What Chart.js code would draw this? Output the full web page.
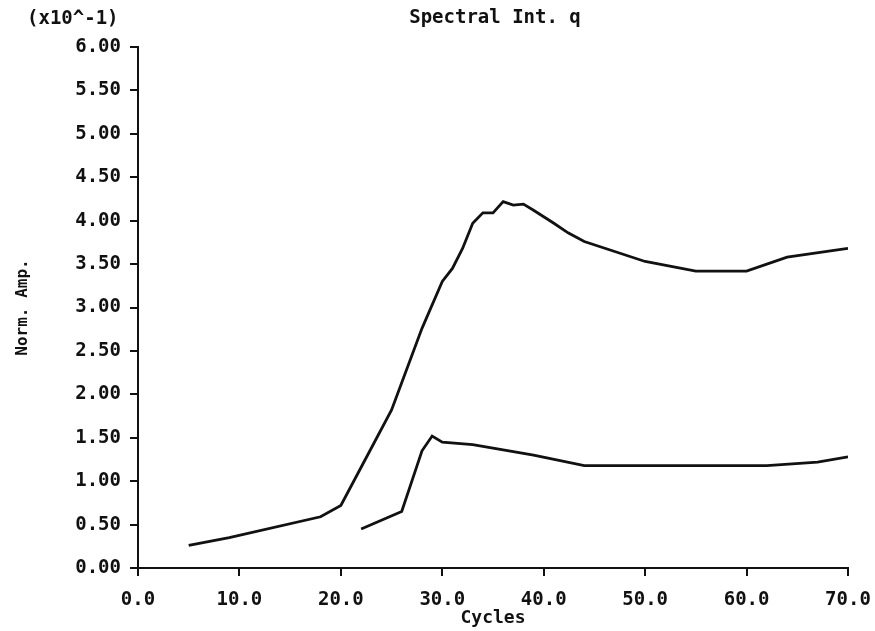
<!DOCTYPE html>
<html>
<head>
<meta charset="utf-8">
<script src="https://cdn.jsdelivr.net/npm/chart.js@4.4.1/dist/chart.umd.min.js"></script>
<style>
  html, body { margin: 0; padding: 0; background: #fff; }
  #wrap { width: 875px; height: 631px; }
</style>
</head>
<body>
<div id="wrap"><canvas id="chart"></canvas></div>
<script>
const upperCycles = [5, 9, 18, 20, 22, 25, 28, 30, 31, 32, 33, 34, 35, 36, 37, 38, 39, 41, 42.4, 44, 50, 55, 60, 64, 70];
const upperAmp = [0.26, 0.35, 0.59, 0.72, 1.16, 1.82, 2.76, 3.30, 3.45, 3.68, 3.97, 4.09, 4.09, 4.22, 4.18, 4.19, 4.12, 3.97, 3.86, 3.76, 3.53, 3.42, 3.42, 3.58, 3.68];

const lowerCycles = [22, 26, 28, 29, 30, 33, 36, 39, 44, 50, 60, 62, 67, 70];
const lowerAmp = [0.45, 0.65, 1.35, 1.52, 1.45, 1.42, 1.36, 1.30, 1.18, 1.18, 1.18, 1.18, 1.22, 1.28];

const toPoints = (xs, ys) => xs.map((x, i) => ({ x, y: ys[i] }));

const plotFont = "DejaVu Sans Mono";
const ink = "#111";

const headerText = {
    id: "headerText",
    afterDraw(chart) {
        const { ctx, chartArea } = chart;
        ctx.save();
        ctx.fillStyle = ink;
        ctx.textBaseline = "middle";
        ctx.font = `bold 19px "${plotFont}"`;
        ctx.textAlign = "center";
        ctx.fillText("Spectral Int. q", (chartArea.left + chartArea.right) / 2 + 2, 18);
        ctx.textAlign = "left";
        ctx.fillText("(x10^-1)", 27, 19);
        ctx.restore();
    }
};

new Chart(document.getElementById("chart"), {
    type: "line",
    data: {
        datasets: [
            {
                label: "upper",
                data: toPoints(upperCycles, upperAmp),
                borderColor: ink,
                borderWidth: 2.8,
                pointRadius: 0,
                tension: 0
            },
            {
                label: "lower",
                data: toPoints(lowerCycles, lowerAmp),
                borderColor: ink,
                borderWidth: 2.8,
                pointRadius: 0,
                tension: 0
            }
        ]
    },
    options: {
        responsive: true,
        maintainAspectRatio: false,
        animation: false,
        layout: { padding: { top: 47, right: 27, bottom: 0, left: 0 } },
        plugins: {
            legend: { display: false },
            tooltip: { enabled: false }
        },
        scales: {
            x: {
                type: "linear",
                min: 0,
                max: 70,
                afterFit: scale => {
                    scale.height = 63;
                    scale.paddingLeft = 0;
                    scale.paddingRight = 0;
                },
                border: { color: ink, width: 2 },
                grid: { drawOnChartArea: false, drawTicks: true, tickLength: 8, color: ink, lineWidth: 2 },
                ticks: {
                    stepSize: 10,
                    padding: 13,
                    color: ink,
                    font: { family: plotFont, size: 19, weight: "bold" },
                    maxRotation: 0,
                    callback: value => value.toFixed(1)
                },
                title: {
                    display: true,
                    text: "Cycles",
                    color: ink,
                    font: { family: plotFont, size: 18, weight: "bold" },
                    padding: { top: -10, bottom: 2 }
                }
            },
            y: {
                min: 0,
                max: 6,
                afterFit: scale => { scale.width = 138; },
                border: { color: ink, width: 2 },
                grid: { drawOnChartArea: false, drawTicks: true, tickLength: 8, color: ink, lineWidth: 2 },
                ticks: {
                    stepSize: 0.5,
                    padding: 9,
                    color: ink,
                    font: { family: plotFont, size: 19, weight: "bold" },
                    callback: value => value.toFixed(2)
                },
                title: {
                    display: true,
                    text: "Norm. Amp.",
                    color: ink,
                    font: { family: plotFont, size: 16, weight: "bold" },
                    padding: { top: 13, bottom: 0 }
                }
            }
        }
    },
    plugins: [headerText]
});
</script>
</body>
</html>
